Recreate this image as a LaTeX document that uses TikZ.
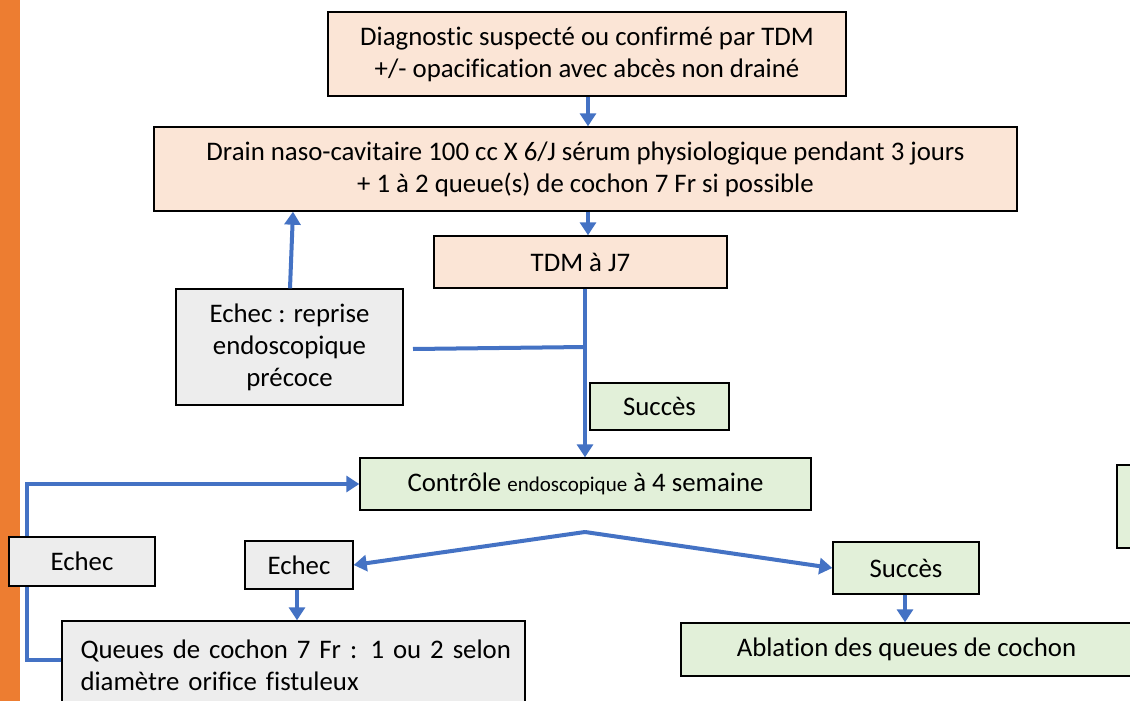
\documentclass[tikz,border=0pt]{standalone}
\usepackage{fontspec}
\setmainfont{Carlito}[Ligatures=NoCommon]
\usetikzlibrary{arrows.meta}
\definecolor{barorange}{HTML}{ED7D31}
\definecolor{peach}{HTML}{FBE5D6}
\definecolor{lgreen}{HTML}{E2F0D9}
\definecolor{lgray}{HTML}{EDEDED}
\definecolor{cblue}{HTML}{4472C4}
\tikzset{
  boxbase/.style={draw=black, line width=1.4pt, rectangle, inner sep=0pt, align=center,
    font=\fontsize{26.8}{32}\selectfont},
  pbox/.style={boxbase, fill=peach},
  gbox/.style={boxbase, fill=lgreen},
  ybox/.style={boxbase, fill=lgray},
  conn/.style={draw=cblue, line width=4pt},
  arr/.style={conn, -{Triangle[width=16pt,length=13pt]}},
}
\begin{document}
\begin{tikzpicture}[x=1pt,y=-1pt]
\useasboundingbox (0,0) rectangle (1130,701);
\clip (0,0) rectangle (1130,701);
\fill[white] (0,0) rectangle (1130,701);
\fill[barorange] (0,0) rectangle (20,701);

% boxes
\node[pbox, minimum width=518pt, minimum height=84pt] (b1) at (587,54)
  {Diagnostic suspecté ou confirmé par TDM\\+/- opacification avec abcès non drainé};
\node[pbox, minimum width=863pt, minimum height=84pt] (b2) at (585.5,169)
  {Drain naso-cavitaire 100 cc X 6/J sérum physiologique pendant 3 jours\\+ 1 à 2 queue(s) de cochon 7 Fr si possible};
\node[pbox, minimum width=293pt, minimum height=52pt] (tdm) at (580.5,262) {TDM à J7};
\node[ybox, minimum width=227pt, minimum height=116pt] (g1) at (289.5,347)
  {Echec : reprise\\endoscopique\\précoce};
\node[gbox, minimum width=139pt, minimum height=47pt] (s1) at (659.5,406.5) {Succès};

% loop behind left Echec
\coordinate (l0) at (27,660);
\coordinate (l1) at (27,484);
\node[ybox, minimum width=463pt, minimum height=89pt, text width=426pt, align=left] (q) at (293.5,665.5)
  {\makebox[426pt][s]{Queues de cochon 7 Fr : 1 ou 2 selon}\\diamètre orifice fistuleux};
\node[gbox, minimum width=451pt, minimum height=52pt] (ctrl) at (585.5,484)
  {Contrôle {\fontsize{21}{24}\selectfont endoscopique} à 4 semaine};
\draw[arr] (q.west |- l0) -- (l0) -- (l1) -- (ctrl.west);

\node[ybox, minimum width=146pt, minimum height=49pt] (e1) at (82,561.5) {Echec};
\node[ybox, minimum width=108pt, minimum height=48pt] (e2) at (299,565) {Echec};
\node[gbox, minimum width=146pt, minimum height=52pt] (s2) at (906,568) {Succès};
\node[gbox, minimum width=451pt, minimum height=53pt] (abl) at (906.5,649.5) {Ablation des queues de cochon};
\node[gbox, minimum width=40pt, minimum height=83pt] (rp) at (1137,506.5) {};

% connectors
\coordinate (xa) at (588,0);
\draw[arr] (b1.south -| xa) -- (b2.north -| xa);
\draw[arr] (b2.south -| xa) -- (tdm.north -| xa);
\coordinate (ga) at (290,0);
\coordinate (gb) at (293,0);
\draw[arr] (g1.north -| ga) -- (b2.south -| gb);
\coordinate (xv) at (585,0);
\draw[arr] (tdm.south -| xv) -- (ctrl.north -| xv);
\coordinate (h0) at (413,349);
\coordinate (j1) at (585,347);
\draw[conn] (h0) -- (j1);
\coordinate (v) at (585,532);
\draw[arr] (v) -- (e2.east);
\draw[arr] (v) -- (s2.west);
\coordinate (xe) at (297,0);
\draw[arr] (e2.south -| xe) -- (q.north -| xe);
\coordinate (xs) at (905,0);
\draw[arr] (s2.south -| xs) -- (abl.north -| xs);
\end{tikzpicture}
\end{document}
